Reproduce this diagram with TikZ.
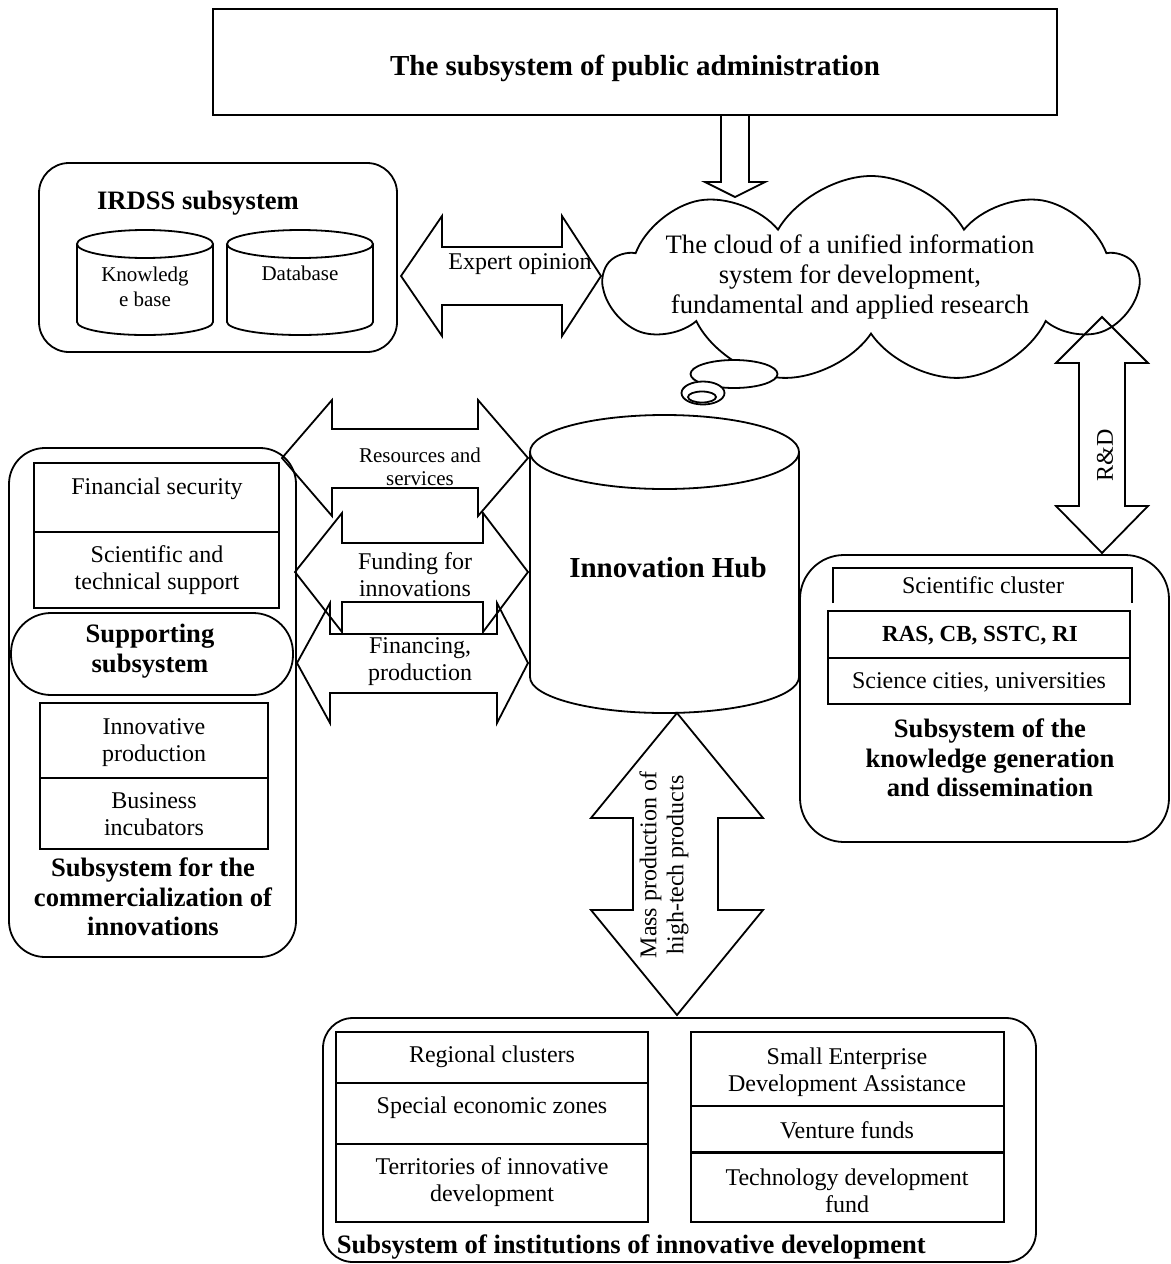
\documentclass[tikz,border=0pt]{standalone}
\usepackage{fontspec}
\setmainfont{Liberation Serif}
\usetikzlibrary{shapes.symbols,shapes.geometric}

\tikzset{
  txt/.style={font=\fontsize{12}{13.5}\selectfont, align=center, inner sep=0pt},
  ttl/.style={font=\fontsize{13.3}{14.75}\selectfont\bfseries, align=center, inner sep=0pt},
  sml/.style={font=\fontsize{10.5}{11.5}\selectfont, align=center, inner sep=0pt},
  fatarrow/.style={draw, line join=miter},
  bubble/.style={ellipse, draw, fill=white, inner sep=0pt},
}

\begin{document}
\begin{tikzpicture}[x=0.5pt, y=-0.5pt, line width=0.9pt]
  \useasboundingbox (0,0) rectangle (1171,1264);

  %public administration
  \draw (213,9) rectangle (1057,115);
  \node[ttl, font=\fontsize{14.5}{16}\selectfont\bfseries] (pa) at (635,68) {The subsystem of public administration};
  \draw[fatarrow] (721,115) -- (721,182) -- (705,182) -- (735,197) -- (765,182) -- (749,182) -- (749,115);

  %cloud
  \node[cloud, draw, cloud puffs=9, cloud puff arc=120, aspect=2.6, minimum width=266pt, minimum height=104pt, inner sep=0pt] (cl) at (871,280) {};
  \node[ttl, font=\fontsize{13.3}{15}\selectfont] (clt) at (850,277) {The cloud of a unified information\\system for development,\\fundamental and applied research};
  \node[bubble, minimum width=43.5pt, minimum height=14pt] (b1) at (734,374) {};
  \node[bubble, minimum width=21.5pt, minimum height=11.5pt] (b2) at (703,393) {};
  \node[bubble, minimum width=14pt, minimum height=5.5pt] (b3) at (702,397) {};

  %IRDSS
  \draw[rounded corners=15pt] (39,163) rectangle (397,352);
  \node[ttl] (irdss) at (198,203) {IRDSS subsystem};
  \draw (77,244) -- (77,322) arc[start angle=180, end angle=360, x radius=34pt, y radius=6.5pt] -- (213,244);
  \draw (145,244) ellipse [x radius=34pt, y radius=7pt];
  \node[sml] (kb) at (145,287) {Knowledg\\[1pt]e base};
  \draw (227,244) -- (227,322) arc[start angle=180, end angle=360, x radius=36.5pt, y radius=6.5pt] -- (373,244);
  \draw (300,244) ellipse [x radius=36.5pt, y radius=7pt];
  \node[sml] (db) at (300,273) {Database};

  %expert opinion
  \draw[fatarrow] (401,276) -- (442,216) -- (442,247) -- (562,247) -- (562,216) -- (601,276) -- (562,336) -- (562,305) -- (442,305) -- (442,336) -- cycle;
  \node[txt] (exp) at (520,264) {Expert opinion};

  %supporting and commercialization
  \draw[rounded corners=18pt] (9,448) rectangle (296,957);
  \draw (34,463) rectangle (279,608);
  \draw (34,532) -- (279,532);
  \node[txt] (fs) at (157,489) {Financial security};
  \node[txt] (sts) at (157,570) {Scientific and\\technical support};
  \draw[rounded corners=20pt] (11,613) rectangle (293,695);
  \node[ttl] (sup) at (150,651) {Supporting\\subsystem};
  \draw (40,703) rectangle (268,849);
  \draw (40,778) -- (268,778);
  \node[txt] (ip) at (154,743) {Innovative\\production};
  \node[txt] (bi) at (154,814) {Business\\incubators};
  \node[ttl] (com) at (153,897) {Subsystem for the\\commercialization of\\innovations};

  %flows to the hub
  \draw[fatarrow] (282,458) -- (332,400) -- (332,429) -- (478,429) -- (478,400) -- (528,458) -- (478,516) -- (478,488) -- (332,488) -- (332,516) -- cycle;
  \node[sml] (res) at (420,467) {Resources and\\services};
  \draw[fatarrow] (295,572) -- (342,513) -- (342,543) -- (483,543) -- (483,513) -- (528,572) -- (483,632) -- (483,602) -- (342,602) -- (342,632) -- cycle;
  \node[txt] (fund) at (415,575) {Funding for\\innovations};
  \draw[fatarrow] (297,663) -- (330,603) -- (330,634) -- (497,634) -- (497,603) -- (528,663) -- (497,723) -- (497,693) -- (330,693) -- (330,723) -- cycle;
  \node[txt] (fin) at (420,662) {Financing,\\production};

  %hub
  \draw (530,452) -- (530,677) arc[start angle=180, end angle=360, x radius=67.25pt, y radius=18pt] -- (799,452);
  \draw (664.5,452) ellipse [x radius=67.25pt, y radius=18.5pt];
  \node[ttl, font=\fontsize{14.5}{16}\selectfont\bfseries] (hub) at (668,568) {Innovation Hub};

  %mass production
  \draw[fatarrow] (677,713) -- (763,818) -- (718,818) -- (718,910) -- (763,910) -- (677,1015) -- (591,910) -- (633,910) -- (633,818) -- (591,818) -- cycle;
  \node[txt, rotate=90] (mass) at (664,865) {Mass production of\\high-tech products};

  %R&D
  \draw[fatarrow] (1102,317) -- (1148,363) -- (1125,363) -- (1125,506) -- (1148,506) -- (1102,553) -- (1056,506) -- (1079,506) -- (1079,363) -- (1056,363) -- cycle;
  \node[txt, rotate=90] (rd) at (1105,455) {R\&D};

  %knowledge generation
  \draw[rounded corners=22pt] (800,555) rectangle (1169,842);
  \draw (833,603) -- (833,568) -- (1132,568) -- (1132,603);
  \node[txt] (sc) at (983,585) {Scientific cluster};
  \draw (828,611) rectangle (1130,704);
  \draw (828,658) -- (1130,658);
  \node[txt, font=\fontsize{11.5}{13}\selectfont\bfseries] (ras) at (980,636) {RAS, CB, SSTC, RI};
  \node[txt] (scu) at (979,682) {Science cities, universities};
  \node[ttl] (kgd) at (990,758) {Subsystem of the\\knowledge generation\\and dissemination};

  %institutions
  \draw[rounded corners=15pt] (323,1018) rectangle (1036,1262);
  \draw (336,1032) rectangle (648,1222);
  \draw (336,1083) -- (648,1083);
  \draw (336,1144) -- (648,1144);
  \node[txt] (rc) at (492,1057) {Regional clusters};
  \node[txt] (sez) at (492,1108) {Special economic zones};
  \node[txt] (tid) at (492,1182) {Territories of innovative\\development};
  \draw (691,1032) rectangle (1004,1222);
  \draw (691,1106) -- (1004,1106);
  \draw[line width=1.5pt] (691,1152) -- (1004,1152);
  \node[txt] (seda) at (847,1072) {Small Enterprise\\Development Assistance};
  \node[txt] (vf) at (847,1130) {Venture funds};
  \node[txt] (tdf) at (847,1191) {Technology development\\fund};
  \node[ttl, anchor=west] (inst) at (336,1247) {Subsystem of institutions of innovative development};
\end{tikzpicture}
\end{document}
